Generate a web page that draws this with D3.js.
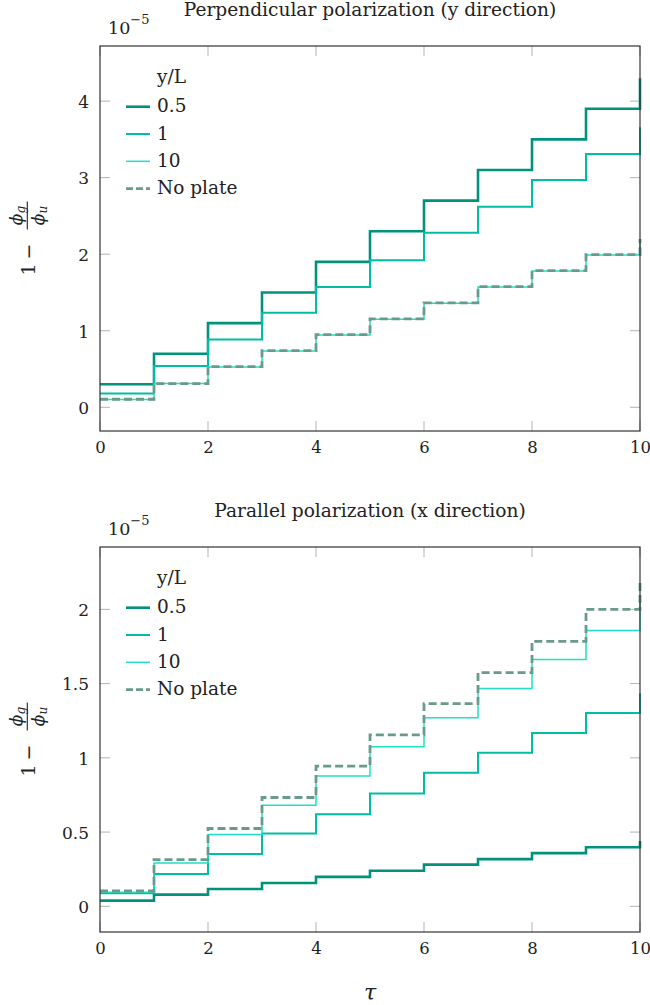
<!DOCTYPE html>
<html>
<head>
<meta charset="utf-8">
<script src="https://cdn.jsdelivr.net/npm/d3@7"></script>
<style>
  body { margin: 0; background: #fff; }
  svg text { font-family: 'DejaVu Serif', 'Noto Serif', 'Times New Roman', Times, serif; fill: #222; }
</style>
</head>
<body>
<svg id="chart" width="650" height="1005"></svg>
<script>
// Time steps (tau) shared by every series
const tau = [0, 1, 2, 3, 4, 5, 6, 7, 8, 9, 10];

// Legend entries (plate distance y/L)
const seriesNames = ["0.5", "1", "10", "No plate"];

// Perpendicular polarization (y direction), values in units of 1e-5
const perpHalf = [0.30, 0.70, 1.10, 1.50, 1.90, 2.30, 2.70, 3.10, 3.50, 3.90, 4.30];
const perpOne = [0.18, 0.54, 0.885, 1.235, 1.57, 1.92, 2.28, 2.62, 2.97, 3.31, 3.66];
const perpTen = [0.10, 0.31, 0.525, 0.735, 0.945, 1.15, 1.36, 1.57, 1.78, 1.99, 2.20];
const perpNoPlate = [0.105, 0.31, 0.53, 0.74, 0.95, 1.155, 1.365, 1.575, 1.785, 1.995, 2.20];

// Parallel polarization (x direction), values in units of 1e-5
const paraHalf = [0.038, 0.079, 0.117, 0.157, 0.198, 0.24, 0.281, 0.318, 0.358, 0.398, 0.44];
const paraOne = [0.088, 0.218, 0.353, 0.49, 0.62, 0.76, 0.90, 1.035, 1.167, 1.302, 1.435];
const paraTen = [0.095, 0.292, 0.483, 0.681, 0.877, 1.074, 1.27, 1.467, 1.663, 1.858, 2.05];
const paraNoPlate = [0.103, 0.315, 0.524, 0.733, 0.944, 1.155, 1.365, 1.574, 1.785, 2.00, 2.20];

// Axis ticks
const xTicks = [0, 2, 4, 6, 8, 10];
const perpYTicks = [0, 1, 2, 3, 4];
const paraYTicks = [0, 0.5, 1, 1.5, 2];

const titles = ["Perpendicular polarization (y direction)", "Parallel polarization (x direction)"];

// Line styles per series
const lineStyles = [
  { color: "#00937b", width: 2.6, dash: null },
  { color: "#00bea6", width: 2.0, dash: null },
  { color: "#1fe0c6", width: 1.5, dash: null },
  { color: "#6a9a89", width: 2.8, dash: "8,4" }
];

const FONT = "'DejaVu Serif', 'Noto Serif', 'Times New Roman', Times, serif";

const svg = d3.select("#chart");
const left = 100, right = 640;

const panels = [
  { title: titles[0], top: 46, bottom: 431, yDomain: [-0.31, 4.72], yTicks: perpYTicks,
    series: [perpHalf, perpOne, perpTen, perpNoPlate] },
  { title: titles[1], top: 547, bottom: 932, yDomain: [-0.173, 2.42], yTicks: paraYTicks,
    series: [paraHalf, paraOne, paraTen, paraNoPlate] }
];

panels.forEach(p => {
  const g = svg.append("g");
  const x = d3.scaleLinear().domain([0, 10]).range([left, right]);
  const y = d3.scaleLinear().domain(p.yDomain).range([p.bottom, p.top]);
  const tickLen = 10;
  const tickColor = "#b3b3b3";

  // inner ticks on all four sides
  const tg = g.append("g").attr("stroke", tickColor).attr("stroke-width", 1);
  xTicks.forEach(t => {
    tg.append("line").attr("x1", x(t)).attr("x2", x(t)).attr("y1", p.bottom).attr("y2", p.bottom - tickLen);
    tg.append("line").attr("x1", x(t)).attr("x2", x(t)).attr("y1", p.top).attr("y2", p.top + tickLen);
  });
  p.yTicks.forEach(t => {
    tg.append("line").attr("x1", left).attr("x2", left + tickLen).attr("y1", y(t)).attr("y2", y(t));
    tg.append("line").attr("x1", right).attr("x2", right - tickLen).attr("y1", y(t)).attr("y2", y(t));
  });

  // tick labels through d3 axes, with their own lines hidden
  const xAxis = g.append("g").attr("transform", `translate(0,${p.bottom})`)
    .call(d3.axisBottom(x).tickValues(xTicks).tickSize(0).tickPadding(0).tickFormat(d3.format("")));
  xAxis.attr("font-family", null).attr("font-size", null);
  xAxis.select(".domain").remove();
  xAxis.selectAll("text").attr("y", 22).attr("dy", null)
    .style("font-size", "16.5px").style("font-family", FONT).attr("fill", "#222");

  const yAxis = g.append("g").attr("transform", `translate(${left},0)`)
    .call(d3.axisLeft(y).tickValues(p.yTicks).tickSize(0).tickPadding(0).tickFormat(d3.format("")));
  yAxis.attr("font-family", null).attr("font-size", null);
  yAxis.select(".domain").remove();
  yAxis.selectAll("text").attr("x", -11).attr("dy", "6.3")
    .style("font-size", "17px").style("font-family", FONT).attr("fill", "#222");

  // step series
  const line = d3.line().curve(d3.curveStepAfter).x((d, i) => x(tau[i])).y(d => y(d));
  p.series.forEach((s, k) => {
    const st = lineStyles[k];
    g.append("path").datum(s).attr("d", line)
      .attr("fill", "none").attr("stroke", st.color).attr("stroke-width", st.width)
      .attr("stroke-dasharray", st.dash);
  });

  // frame
  g.append("rect").attr("x", left).attr("y", p.top).attr("width", right - left).attr("height", p.bottom - p.top)
    .attr("fill", "none").attr("stroke", "#333").attr("stroke-width", 1.2);

  // title
  g.append("text").attr("x", (left + right) / 2).attr("y", p.top - 30).attr("text-anchor", "middle")
    .style("font-size", "18.6px").text(p.title);

  // scale factor 10^-5
  const sf = g.append("text").attr("x", 108).attr("y", p.top - 12).style("font-size", "17.5px");
  sf.append("tspan").text("10");
  sf.append("tspan").attr("dy", -10).style("font-size", "13px").text("\u22125");

  // legend
  const lg = g.append("g");
  lg.append("text").attr("x", 157).attr("y", p.top + 37).style("font-size", "18.5px").text("y/L");
  seriesNames.forEach((name, k) => {
    const ly = p.top + 60.7 + 27.3 * k;
    const st = lineStyles[k];
    lg.append("line").attr("x1", 126).attr("x2", 150).attr("y1", ly).attr("y2", ly)
      .attr("stroke", st.color).attr("stroke-width", st.width).attr("stroke-dasharray", st.dash ? "7,3" : null);
    lg.append("text").attr("x", 157).attr("y", ly + 5.5).style("font-size", "18.5px").text(name);
  });

  // y label: 1 − φg/φu (rotated)
  const cy = (p.top + p.bottom) / 2;
  const yl = g.append("g").attr("transform", `translate(35,${cy}) rotate(-90)`);
  yl.append("text").attr("x", -37).attr("y", 0).style("font-size", "19px").text("1");
  yl.append("text").attr("x", -21).attr("y", 0).style("font-size", "19px").text("\u2212");
  yl.append("line").attr("x1", 9).attr("x2", 37).attr("y1", -7.7).attr("y2", -7.7)
    .attr("stroke", "#222").attr("stroke-width", 1.1);
  const num = yl.append("text").attr("x", 23).attr("y", -13).attr("text-anchor", "middle")
    .style("font-size", "17px").style("font-style", "italic");
  num.append("tspan").text("\u03d5");
  num.append("tspan").attr("dy", 3).style("font-size", "12px").text("g");
  const den = yl.append("text").attr("x", 23).attr("y", 9).attr("text-anchor", "middle")
    .style("font-size", "17px").style("font-style", "italic");
  den.append("tspan").text("\u03d5");
  den.append("tspan").attr("dy", 3).style("font-size", "12px").text("u");
});

// x label
svg.append("text").attr("x", 370).attr("y", 1000).attr("text-anchor", "middle")
  .style("font-size", "22px").style("font-style", "italic").text("\u03c4");
</script>
</body>
</html>
